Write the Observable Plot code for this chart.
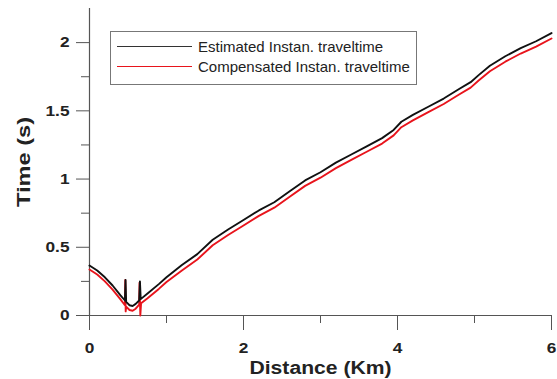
<!DOCTYPE html>
<html><head><meta charset="utf-8">
<script src="https://cdn.jsdelivr.net/npm/d3@7"></script>
<script src="https://cdn.jsdelivr.net/npm/@observablehq/plot@0.6"></script>
<style>
body{margin:0;background:#fff;font-family:"Liberation Sans",Arial,sans-serif;}
#wrap{position:relative;width:557px;height:379px;}
.legend{position:absolute;left:110px;top:31px;width:305px;height:52px;border:1px solid #777;background:#fff;}
.row{position:absolute;left:0;height:20px;display:flex;align-items:center;font-size:15px;color:#222;white-space:nowrap;}
.sw{width:75px;height:0;border-top:1.5px solid;margin-left:6px;margin-right:6px;}
</style></head><body><div id="wrap"></div>
<script>
// Estimated Instan. traveltime (black)
const estDist = [0,0.1,0.2,0.3,0.4,0.46,0.468,0.476,0.52,0.56,0.6,0.645,0.655,0.665,0.75,0.9,1.0,1.2,1.4,1.6,1.8,2.0,2.2,2.4,2.6,2.8,3.0,3.2,3.4,3.6,3.8,3.95,4.05,4.2,4.4,4.6,4.8,4.95,5.05,5.2,5.4,5.6,5.8,6.0];
const estTime = [0.366,0.33,0.28,0.22,0.15,0.11,0.26,0.10,0.075,0.07,0.085,0.11,0.25,0.12,0.16,0.23,0.28,0.37,0.45,0.555,0.63,0.70,0.77,0.83,0.91,0.99,1.05,1.12,1.18,1.24,1.30,1.36,1.42,1.47,1.53,1.59,1.66,1.71,1.76,1.83,1.90,1.96,2.01,2.07];
// Compensated Instan. traveltime (red)
const compDist = [0,0.1,0.2,0.3,0.4,0.46,0.465,0.47,0.476,0.52,0.56,0.6,0.645,0.65,0.66,0.67,0.75,0.9,1.0,1.2,1.4,1.6,1.8,2.0,2.2,2.4,2.6,2.8,3.0,3.2,3.4,3.6,3.8,3.95,4.05,4.2,4.4,4.6,4.8,4.95,5.05,5.2,5.4,5.6,5.8,6.0];
const compTime = [0.337,0.30,0.25,0.19,0.12,0.075,0.26,0.03,0.065,0.04,0.035,0.05,0.08,0.24,0.0,0.09,0.125,0.195,0.245,0.33,0.41,0.515,0.59,0.66,0.73,0.79,0.87,0.95,1.01,1.08,1.14,1.20,1.26,1.32,1.38,1.43,1.49,1.55,1.62,1.67,1.72,1.79,1.86,1.92,1.97,2.03];
const seriesNames = ["Estimated Instan. traveltime","Compensated Instan. traveltime"];
const seriesColors = ["#111111","#e8141c"];
const xMajor = [0,2,4,6], xMinor = [1,3,5];
const yMajor = [0,0.5,1,1.5,2], yMinor = [0.25,0.75,1.25,1.75];

const est = estDist.map((d,i)=>({d, t: estTime[i]}));
const comp = compDist.map((d,i)=>({d, t: compTime[i]}));

const axisCol = "#555";
const chart = Plot.plot({
  width: 557, height: 379,
  marginLeft: 89, marginRight: 6, marginTop: 8, marginBottom: 64,
  style: {fontFamily: '"Liberation Sans", Arial, sans-serif', background: "#fff", color: "#222", overflow: "visible"},
  x: {domain: [0,6]},
  y: {domain: [0,2.25]},
  marks: [
    Plot.ruleX([0], {stroke: axisCol, strokeWidth: 1.2}),
    Plot.ruleY([0], {stroke: axisCol, strokeWidth: 1.2}),
    Plot.axisX({ticks: xMajor, tickSize: 15, tickPadding: 12, fontSize: 15, fontWeight: "bold", stroke: axisCol, tickFormat: d => String(d), label: "Distance (Km)", labelAnchor: "center", labelArrow: "none", labelOffset: 58}),
    Plot.axisX({ticks: xMinor, tickSize: 8, text: null, stroke: axisCol, label: null}),
    Plot.axisY({ticks: yMajor, tickSize: 13, tickPadding: 7, fontSize: 15, fontWeight: "bold", stroke: axisCol, tickFormat: d => String(d), label: "Time (s)", labelAnchor: "center", labelArrow: "none", labelOffset: 72}),
    Plot.axisY({ticks: yMinor, tickSize: 8, text: null, stroke: axisCol, label: null}),
    Plot.line(comp, {x: "d", y: "t", stroke: seriesColors[1], strokeWidth: 1.9}),
    Plot.line(est, {x: "d", y: "t", stroke: seriesColors[0], strokeWidth: 1.9})
  ]
});
document.getElementById("wrap").appendChild(chart);

// axis title styling
chart.querySelectorAll("text").forEach(t => {
  const s = t.textContent;
  if (s === "Distance (Km)" || s === "Time (s)") {
    t.setAttribute("font-size", "18");
    t.setAttribute("font-weight", "bold");
    t.style.fontSize = "18px"; t.style.fontWeight = "bold";
  }
});
chart.querySelectorAll("text").forEach(t => {
  const s = t.textContent;
  const w = t.getComputedTextLength();
  if (!w) return;
  let target = null;
  if (s === "Distance (Km)") target = 142;
  else if (s === "Time (s)") target = 90;
  else if (/^[0-9.]+$/.test(s)) target = w * 1.15;
  if (target) { t.setAttribute("textLength", target); t.setAttribute("lengthAdjust", "spacingAndGlyphs"); }
});

// legend
const leg = document.createElement("div");
leg.className = "legend";
seriesNames.forEach((n,i) => {
  const r = document.createElement("div");
  r.className = "row";
  r.style.top = (i === 0 ? 4 : 24) + "px";
  const sw = document.createElement("span");
  sw.className = "sw"; sw.style.borderColor = i === 0 ? "#333" : seriesColors[1];
  const tx = document.createElement("span"); tx.textContent = n;
  r.appendChild(sw); r.appendChild(tx);
  leg.appendChild(r);
});
document.getElementById("wrap").appendChild(leg);
</script></body></html>
